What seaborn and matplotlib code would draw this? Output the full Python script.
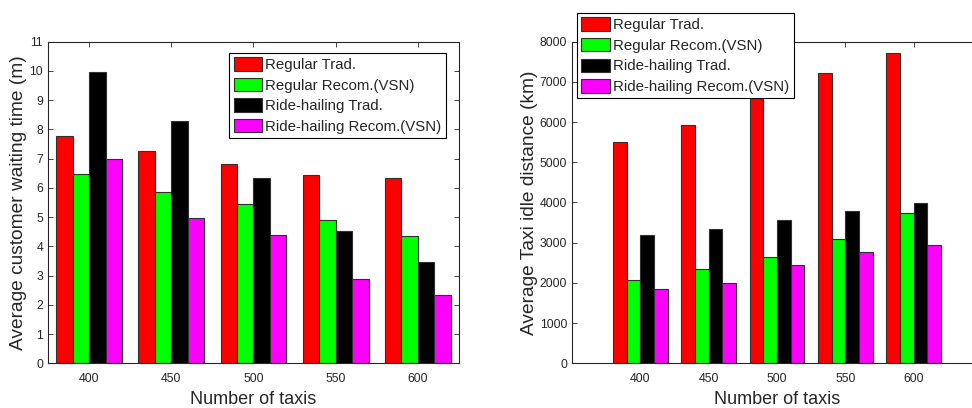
import pandas as pd
import matplotlib
matplotlib.use("Agg")
import matplotlib.pyplot as plt
import seaborn as sns

sns.set_style("white")
plt.rcParams['font.family'] = ['Liberation Sans', 'DejaVu Sans']

# Data
taxis = [400, 450, 500, 550, 600]
series = ["Regular Trad.", "Regular Recom.(VSN)", "Ride-hailing Trad.", "Ride-hailing Recom.(VSN)"]
colors = ["#FF0000", "#00FF00", "#000000", "#FF00FF"]

wait_regular_trad = [7.78, 7.26, 6.80, 6.45, 6.33]
wait_regular_recom = [6.46, 5.85, 5.44, 4.89, 4.36]
wait_ride_trad = [9.95, 8.30, 6.33, 4.52, 3.48]
wait_ride_recom = [6.98, 4.97, 4.40, 2.88, 2.34]

idle_regular_trad = [5500, 5930, 6590, 7230, 7710]
idle_regular_recom = [2080, 2350, 2640, 3100, 3750]
idle_ride_trad = [3185, 3335, 3575, 3800, 3990]
idle_ride_recom = [1840, 2000, 2440, 2760, 2930]


def to_long(cols):
    rows = []
    for name, vals in zip(series, cols):
        for t, v in zip(taxis, vals):
            rows.append({"taxis": t, "type": name, "value": v})
    return pd.DataFrame(rows)


wait_df = to_long([wait_regular_trad, wait_regular_recom, wait_ride_trad, wait_ride_recom])
idle_df = to_long([idle_regular_trad, idle_regular_recom, idle_ride_trad, idle_ride_recom])

fig = plt.figure(figsize=(9.72, 4.08), dpi=100)
ax1 = fig.add_axes([0.0494, 0.1095, 0.4228, 0.7885])
ax2 = fig.add_axes([0.5885, 0.1095, 0.4218, 0.7885])

axis_col = "#262626"


def draw(ax, df, ylabel, ylim, yticks, xlim, legend_loc, legend_anchor):
    sns.barplot(data=df, x="taxis", y="value", hue="type", hue_order=series,
                palette=colors, saturation=1, edgecolor="#303030", linewidth=0.8,
                width=0.8, ax=ax, errorbar=None)
    ax.set_ylim(*ylim)
    ax.set_yticks(yticks)
    ax.set_xlim(*xlim)
    ax.set_xlabel("Number of taxis", fontsize=13, color=axis_col, labelpad=4)
    ax.set_ylabel(ylabel, fontsize=13.8, color=axis_col, labelpad=1.5)
    ax.tick_params(direction="in", bottom=True, left=True, top=True, right=True,
                   length=3.5, width=0.6, labelsize=8.8, colors=axis_col)
    ax.tick_params(axis="x", pad=7)
    ax.tick_params(axis="y", pad=3.5)
    for s in ax.spines.values():
        s.set_color(axis_col)
        s.set_linewidth(0.8)
    handles, labels = ax.get_legend_handles_labels()
    ax.legend(handles, labels, loc=legend_loc, bbox_to_anchor=legend_anchor,
              borderaxespad=0, fontsize=10.8, frameon=True, fancybox=False,
              edgecolor="black", framealpha=1, labelspacing=0.38,
              handlelength=1.9, handleheight=1.0, handletextpad=0.2,
              borderpad=0.3)
    ax.get_legend().get_frame().set_linewidth(0.8)


draw(ax1, wait_df, "Average customer waiting time (m)", (0, 11), range(0, 12),
     (-0.5, 4.5), "upper right", (0.968, 0.965))
draw(ax2, idle_df, "Average Taxi idle distance (km)", (0, 8000), range(0, 8001, 1000),
     (-1, 5), "upper left", (0.012, 1.089))

fig.savefig("out.png", dpi=100)
